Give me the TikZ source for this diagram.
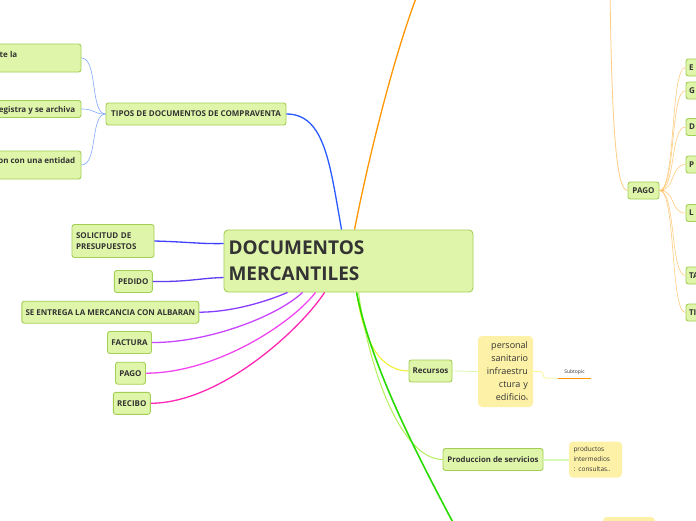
\documentclass[tikz,border=0pt]{standalone}
\usepackage{fontspec}
\setmainfont{Open Sans}
\usetikzlibrary{calc}
\definecolor{topicfill}{RGB}{223,245,169}
\definecolor{topicline}{RGB}{164,207,85}
\definecolor{notefill}{RGB}{253,241,168}
\definecolor{textgray}{RGB}{51,51,51}
\definecolor{brblue}{RGB}{40,90,255}
\definecolor{brsolic}{RGB}{64,64,255}
\definecolor{brpedido}{RGB}{95,60,240}
\definecolor{bralbaran}{RGB}{135,60,255}
\definecolor{brfactura}{RGB}{200,70,255}
\definecolor{brpago}{RGB}{240,70,240}
\definecolor{brrecibo}{RGB}{255,40,180}
\definecolor{brorange}{RGB}{255,150,0}
\definecolor{bryellow}{RGB}{240,240,40}
\definecolor{brlime}{RGB}{180,240,90}
\definecolor{brgreen}{RGB}{40,220,0}
\definecolor{twigblue}{RGB}{130,170,255}
\definecolor{twigorange}{RGB}{255,205,130}
\definecolor{twigyellow}{RGB}{250,245,150}
\definecolor{twiglime}{RGB}{215,248,180}
\tikzset{
  topic/.style={draw=topicline, fill=topicfill, line width=0.9pt, rounded corners=2.5pt,
    text=textgray, font=\bfseries\fontsize{8}{11}\selectfont, inner sep=0pt, minimum height=22pt},
  note/.style={fill=notefill, rounded corners=4pt, text=textgray, inner sep=0pt},
  cuttext/.style={text=textgray, font=\bfseries\fontsize{8}{9}\selectfont, inner sep=0pt},
  branch/.style={line width=1.3pt},
  twig/.style={line width=0.6pt},
}
\begin{document}
\begin{tikzpicture}[x=1pt,y=-1pt]
\useasboundingbox (0,0) rectangle (696,520);
\fill[white] (0,0) rectangle (696,520);
\clip (0,0) rectangle (696,520);

\node[topic, minimum width=249pt, minimum height=62pt, rounded corners=4pt, text width=240pt, align=left,
  font=\bfseries\fontsize{19}{26}\selectfont] (dm) at (348.5,261) {DOCUMENTOS\\MERCANTILES};

\node[topic, minimum width=180pt] (tipos) at (196,114) {TIPOS DE DOCUMENTOS DE COMPRAVENTA};
\node[topic, minimum width=200pt, minimum height=28pt] (compraA) at (-19,58) {};
\node[topic, minimum width=200pt, minimum height=17pt] (compraB) at (-19,109) {};
\node[topic, minimum width=200pt, minimum height=28pt] (compraC) at (-19,165) {};
\node[cuttext, anchor=east] (compraAt) at (17.5,54) {te la};
\node[cuttext, anchor=east] (compraBt) at (75.5,110) {egistra y se archiva};
\node[cuttext, anchor=east] (compraCt) at (75.5,160) {on con una entidad};

\node[topic, minimum width=82pt, minimum height=33pt, text width=74pt, align=left] (solicitud) at (113,241) {SOLICITUD DE\\PRESUPUESTOS};
\node[topic, minimum width=38pt] (pedido) at (133.3,281.5) {PEDIDO};
\node[topic, minimum width=177pt] (albaran) at (110.3,312.2) {SE ENTREGA LA MERCANCIA CON ALBARAN};
\node[topic, minimum width=44pt] (factura) at (129.5,342.5) {FACTURA};
\node[topic, minimum width=30pt] (pagoIzq) at (130.5,373.2) {PAGO};
\node[topic, minimum width=37pt] (recibo) at (131.8,403.3) {RECIBO};

\node[topic, minimum width=31pt, minimum height=17pt] (pagoDer) at (643.5,190.5) {PAGO};
\foreach \nm/\yy/\txt in {E/67.5/E, G/90.5/G, D/127/D, P/164.5/P, L/213/L, TA/275.5/TA, TI/312.5/TI}
  \node[topic, minimum width=40pt, minimum height=17pt, text width=34pt, align=left] (medio\nm) at (706,\yy) {\txt};

\node[topic, minimum width=43pt] (recursos) at (430.5,371) {Recursos};
\node[note, minimum width=55pt, minimum height=71pt, text width=45pt, align=right,
  font=\fontsize{9}{13}\selectfont] (personal) at (505.5,371.5) {personal\\sanitario\\infraestru\\ctura y\\edificio{\fontsize{4}{4}\selectfont s}};
\node[text=textgray, font=\fontsize{5}{6}\selectfont, minimum width=33pt, minimum height=12pt, inner sep=0pt] (sub) at (574.5,372) {Subtopic};

\node[topic, minimum width=100pt, font=\bfseries\fontsize{7.8}{9}\selectfont] (produccion) at (493,459.5) {Produccion de servicios};
\node[note, minimum width=53pt, minimum height=36pt, text width=44pt, align=left,
  font=\fontsize{6.5}{10}\selectfont] (productos) at (595.5,459.5) {productos\\intermedios\\: consultas..};
\node[note, minimum width=52pt, minimum height=30pt] (bajo) at (629,532) {};

\coordinate (arriba) at (420,-12);
\coordinate (arribaPago) at (610,-12);
\coordinate (abajo) at (458,532);

\draw[twig, twigblue] (compraA.east) .. controls (98,58) and (90,114) .. (tipos.west);
\draw[twig, twigblue] (compraB.east) .. controls (96,109) and (92,114) .. (tipos.west);
\draw[twig, twigblue] (compraC.east) .. controls (98,165) and (90,114) .. (tipos.west);

\draw[branch, brblue] ($(dm.north west)+(118,0)$) .. controls (330,165) and (325,114) .. (tipos.east);
\draw[branch, brorange] ($(dm.north west)+(131,0)$) .. controls (368,160) and (395,50) .. (arriba);
\draw[branch, brsolic] (solicitud.east) .. controls (190,242) and (200,244) .. ($(dm.north west)+(0,14)$);
\draw[branch, brpedido] (pedido.east) .. controls (190,282) and (200,278) .. ($(dm.north west)+(0,48)$);
\draw[branch, bralbaran] (albaran.east) .. controls (235,312) and (270,300) .. ($(dm.south west)+(64,0)$);
\draw[branch, brfactura] (factura.east) .. controls (205,343) and (275,318) .. ($(dm.south west)+(79,0)$);
\draw[branch, brpago] (pagoIzq.east) .. controls (215,373) and (290,325) .. ($(dm.south west)+(92,0)$);
\draw[branch, brrecibo] (recibo.east) .. controls (220,403) and (300,330) .. ($(dm.south west)+(101,0)$);

\draw[branch, bryellow, line width=1pt] ($(dm.south west)+(133,0)$) .. controls (362,330) and (375,371) .. (recursos.west);
\draw[branch, brlime, line width=1pt] ($(dm.south west)+(135,0)$) .. controls (368,365) and (400,459) .. (produccion.west);
\draw[branch, brgreen, line width=1.6pt] ($(dm.south west)+(133,0)$) .. controls (372,370) and (420,460) .. (abajo);

\draw[twig, twigorange, line width=0.8pt] (arribaPago) .. controls (612,150) and (618,190) .. (pagoDer.west);
\draw[brorange, line width=1pt] (pagoDer.east) -- ++(5,0);
\foreach \nm in {E, G, D, P, L, TA, TI}
  \draw[twig, twigorange] (pagoDer.east) .. controls (676,190) and (670,0|-medio\nm.west) .. (medio\nm.west);

\draw[twiglime, line width=0.8pt] (recursos.east) -- (personal.west);
\draw[twigyellow, line width=0.8pt, rounded corners=3pt] (personal.east) -- ++(10,0) |- (sub.south west);
\draw[brorange, line width=1.2pt] (sub.south west) -- (sub.south east);
\draw[twiglime, line width=2pt] (produccion.east) -- (productos.west);
\end{tikzpicture}
\end{document}
